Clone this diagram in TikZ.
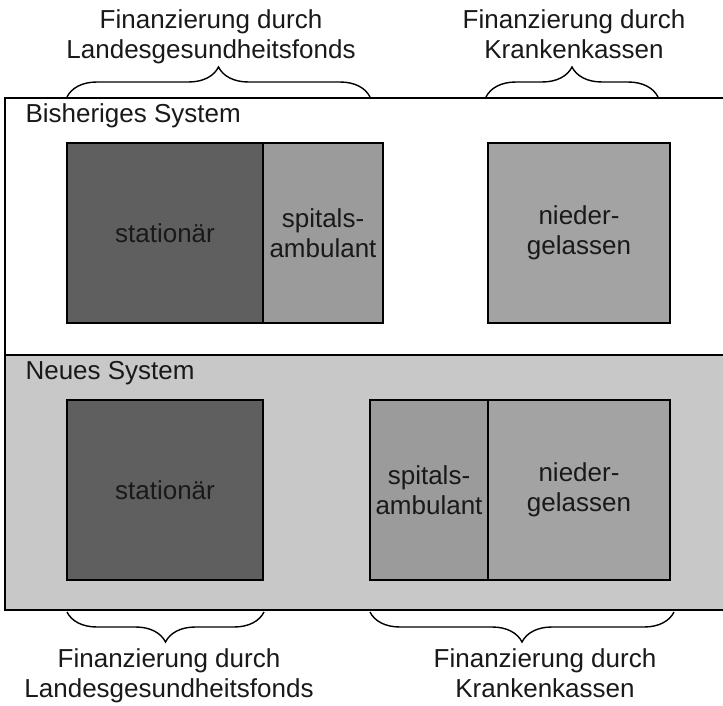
\documentclass[tikz,border=0pt]{standalone}
\usepackage{fontspec}
\setmainfont{Liberation Sans}
\usetikzlibrary{decorations.pathreplacing}

\definecolor{panelgrey}{HTML}{C8C8C8}
\definecolor{darkbox}{HTML}{5F5F5F}
\definecolor{midbox}{HTML}{9B9B9B}
\definecolor{lightbox}{HTML}{A3A3A3}

\tikzset{
  label font/.style={font=\fontsize{26}{30}\selectfont, text=black!90},
  box/.style={draw, line width=1.8pt, inner sep=0pt, minimum height=180pt, align=center, label font},
  panel/.style={draw, line width=1.8pt},
  curly/.style={decorate, decoration={brace, amplitude=30pt}, line width=1.4pt},
  heading/.style={align=center, label font},
}

\begin{document}
\begin{tikzpicture}[x=1pt,y=-1pt]
        \useasboundingbox (0,0) rectangle (723,706);
        % panels
        \draw[panel, fill=white] (5,98) rectangle (726,355);
        \draw[panel, fill=panelgrey] (5,355) rectangle (726,610);
        \node[label font, anchor=west] (old) at (22,116) {Bisheriges System};
        \node[label font, anchor=west] (new) at (22,373) {Neues System};
        % bisheriges System
        \node[box, fill=darkbox, minimum width=196pt] (stat1) at (165,233) {stationär};
        \node[box, fill=midbox, minimum width=120pt] (spit1) at (323,233) {spitals-\\ambulant};
        \node[box, fill=lightbox, minimum width=182pt] (nied1) at (579,233) {nieder-\\gelassen};
        % neues System
        \node[box, fill=darkbox, minimum width=196pt] (stat2) at (165,490) {stationär};
        \node[box, fill=midbox, minimum width=118pt] (spit2) at (429,490) {spitals-\\ambulant};
        \node[box, fill=lightbox, minimum width=182pt] (nied2) at (579,490) {nieder-\\gelassen};
        % braces and headings
        \draw[curly] (67,97) -- (370,97);
        \draw[curly] (486,97) -- (658,97);
        \draw[curly] (264,612) -- (67,612);
        \draw[curly] (674,612) -- (370,612);
        \node[heading] (fin1) at (211,37) {Finanzierung durch\\Landesgesundheitsfonds};
        \node[heading] (fin2) at (574,34) {Finanzierung durch\\Krankenkassen};
        \node[heading] (fin3) at (169,676) {Finanzierung durch\\Landesgesundheitsfonds};
        \node[heading] (fin4) at (545,673) {Finanzierung durch\\Krankenkassen};
      \end{tikzpicture}
\end{document}
